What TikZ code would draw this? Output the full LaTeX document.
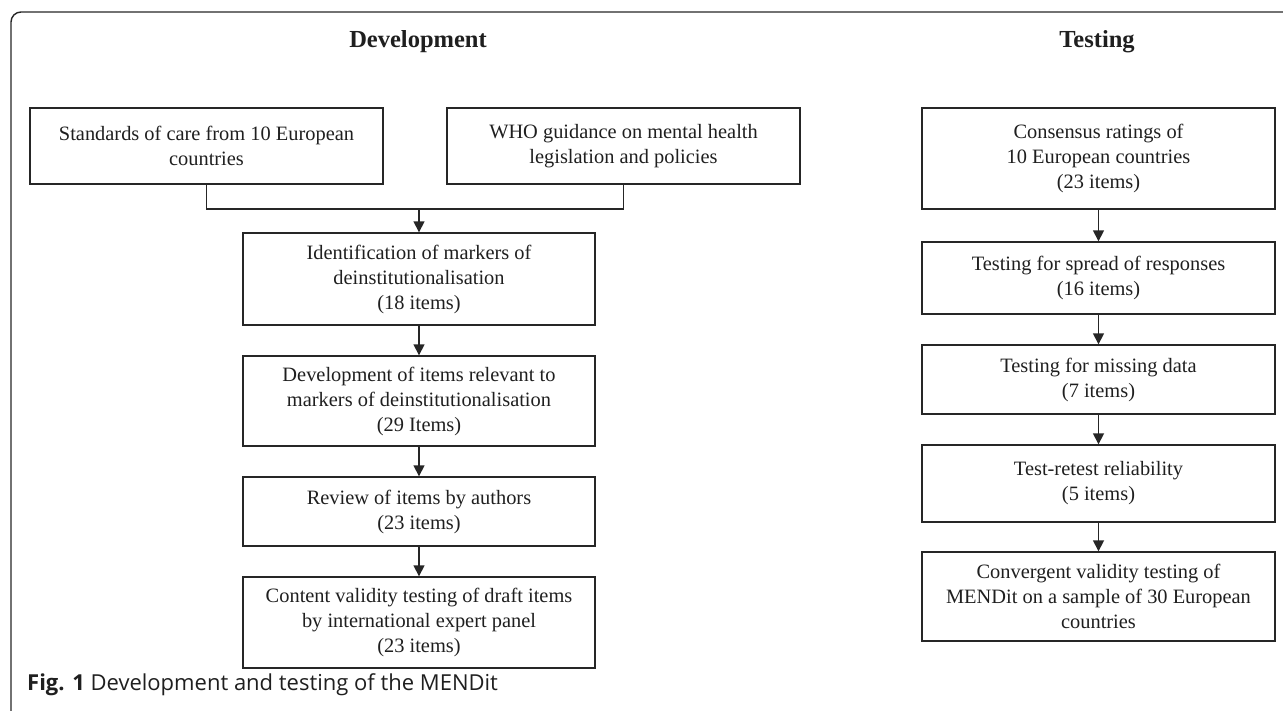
\documentclass[tikz,border=0pt]{standalone}
\usepackage{fontspec}
\setmainfont{Liberation Serif}
\newfontfamily\capfont{Open Sans}
\usetikzlibrary{arrows.meta}
\tikzset{
  x=1pt, y=-1pt,
  flowbox/.style={draw=black!85, line width=1.4pt, align=center, inner sep=0pt,
    font=\fontsize{20.4}{25}\selectfont, text=black!88},
  flowarrow/.style={draw=black!85, line width=1.6pt, -{Triangle[length=11pt,width=11pt]}},
  flowline/.style={draw=black!85, line width=1.6pt},
  titletext/.style={font=\fontsize{24.5}{28}\selectfont\bfseries, text=black!88},
}
\begin{document}
\begin{tikzpicture}
\useasboundingbox (0,0) rectangle (1283,710);
% frame
\draw[black!85, line width=1.4pt, rounded corners=10pt] (11,712) -- (11,12) -- (1290,12);
% titles
\node[titletext] (tdev) at (418,42) {Development};
\node[titletext] (ttest) at (1097,42) {Testing};
% development boxes
\node[flowbox, minimum width=353pt, minimum height=76pt] (std) at (206.5,146) {Standards of care from 10 European\\countries};
\node[flowbox, minimum width=353pt, minimum height=76pt] (who) at (623.5,146) {WHO guidance on mental health\\legislation and policies};
\node[flowbox, minimum width=352pt, minimum height=92pt] (ident) at (419,279) {Identification of markers of\\deinstitutionalisation\\(18 items)};
\node[flowbox, minimum width=352pt, minimum height=90pt] (devit) at (419,401) {Development of items relevant to\\markers of deinstitutionalisation\\(29 Items)};
\node[flowbox, minimum width=352pt, minimum height=69pt] (review) at (419,511.5) {Review of items by authors\\(23 items)};
\node[flowbox, minimum width=352pt, minimum height=91pt] (content) at (419,622.5) {Content validity testing of draft items\\by international expert panel\\(23 items)};
% testing boxes
\node[flowbox, minimum width=353pt, minimum height=101pt] (cons) at (1098.5,158.5) {Consensus ratings of\\10 European countries\\(23 items)};
\node[flowbox, minimum width=353pt, minimum height=72pt] (spread) at (1098.5,278) {Testing for spread of responses\\(16 items)};
\node[flowbox, minimum width=353pt, minimum height=69pt] (miss) at (1098.5,379.5) {Testing for missing data\\(7 items)};
\node[flowbox, minimum width=353pt, minimum height=77pt] (retest) at (1098.5,483.5) {Test-retest reliability\\(5 items)};
\node[flowbox, minimum width=353pt, minimum height=89pt] (conv) at (1098.5,596.5) {Convergent validity testing of\\MENDit on a sample of 30 European\\countries};
% merge connector
\coordinate (mj) at (419,209);
\draw[flowline] (std.south) -- (std.south |- mj) -- (who.south |- mj) -- (who.south);
\draw[flowarrow] (mj) -- (ident.north);
\draw[flowarrow] (ident) -- (devit);
\draw[flowarrow] (devit) -- (review);
\draw[flowarrow] (review) -- (content);
\draw[flowarrow] (cons) -- (spread);
\draw[flowarrow] (spread) -- (miss);
\draw[flowarrow] (miss) -- (retest);
\draw[flowarrow] (retest) -- (conv);
% caption
\node[anchor=west, inner sep=0pt, font=\capfont\fontsize{22}{26}\selectfont, text=black!88] (cap) at (27,685) {\textbf{Fig. 1} Development and testing of the MENDit};
\end{tikzpicture}
\end{document}
